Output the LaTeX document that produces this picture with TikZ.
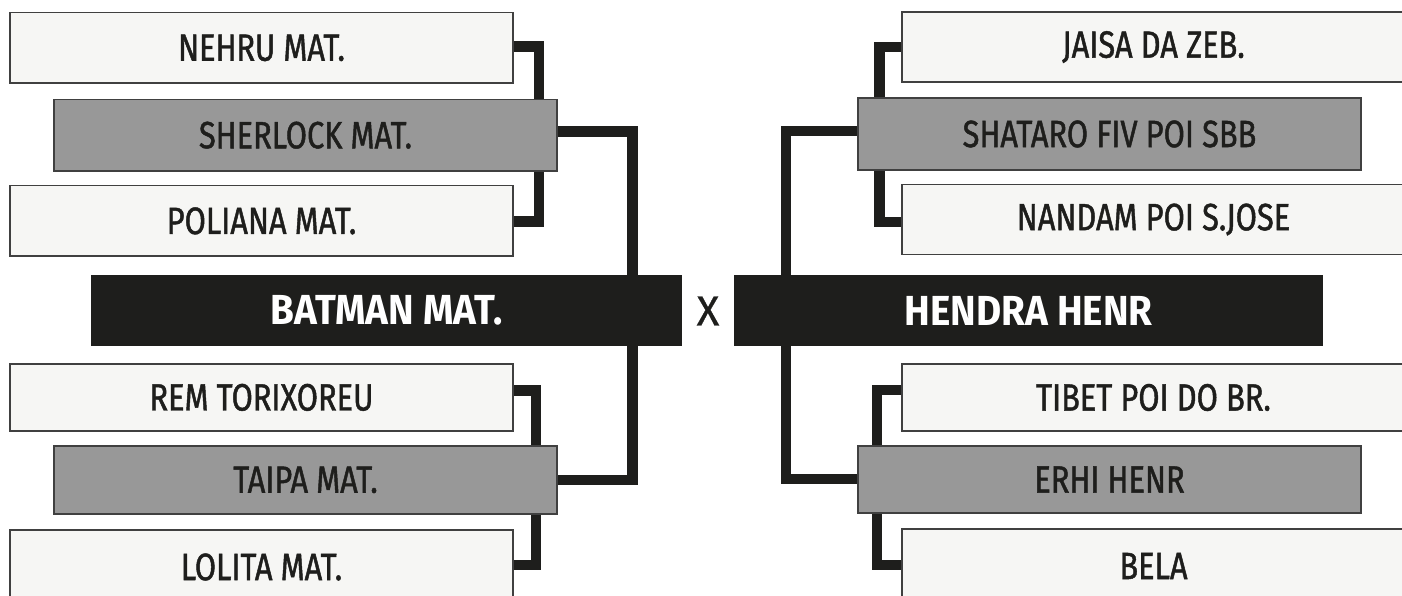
\documentclass[tikz,border=0pt]{standalone}
\usepackage{fontspec}
\setmainfont{Fira Sans}
\newfontfamily\namefont{Fira Sans}[FakeStretch=0.81,FakeBold=1.2]
\newfontfamily\teamfont{Fira Sans}[FakeStretch=0.92]
\newfontfamily\vsfont{Fira Sans}[FakeBold=0.6]
\usetikzlibrary{backgrounds}
\definecolor{ink}{HTML}{1E1E1C}
\definecolor{lightfill}{HTML}{F6F6F4}
\definecolor{grayfill}{HTML}{989898}
\definecolor{edgecol}{HTML}{404040}
\tikzset{
  lightbox/.style={draw=edgecol, line width=1.5pt, fill=lightfill, minimum width=503pt,
    text=ink, inner sep=0pt, font=\namefont\fontsize{38}{38}\selectfont},
  graybox/.style={lightbox, fill=grayfill},
  teambox/.style={fill=ink, text=white, inner sep=0pt, minimum height=71pt,
    font=\teamfont\bfseries\fontsize{42}{42}\selectfont},
  conn/.style={draw=ink, line width=10.5pt, line join=miter},
  vsword/.style={text=ink, inner sep=0pt, font=\vsfont\fontsize{42}{42}\selectfont}
}
\begin{document}
\begin{tikzpicture}[x=1pt,y=-1pt]
\clip (0,0) rectangle (1402,596);
% left bracket
\node[lightbox, minimum height=70.3pt] (nehru)    at (261.5,47.9)  {NEHRU MAT.};
\node[graybox,  minimum height=71.7pt] (sherlock) at (305.5,135.2) {SHERLOCK MAT.};
\node[lightbox, minimum height=70.3pt] (poliana)  at (261.5,220.9) {POLIANA MAT.};
\node[teambox,  minimum width=591pt]   (batman)   at (386.5,310.5) {BATMAN MAT.};
\node[lightbox, minimum height=66.7pt] (rem)      at (261.5,397.4) {REM TORIXOREU};
\node[graybox,  minimum height=67.7pt] (taipa)    at (305.5,479.9) {TAIPA MAT.};
\node[lightbox, minimum height=74pt]   (lolita)   at (261.5,567)   {LOLITA MAT.};
% right bracket
\node[lightbox, minimum height=70pt]   (jaisa)    at (1153.5,47)   {JAISA DA ZEB.};
\node[graybox,  minimum height=72pt]   (shataro)  at (1109.5,134)  {SHATARO FIV POI SBB};
\node[lightbox, minimum height=70pt]   (nandam)   at (1153.5,219.5){NANDAM POI S.JOSE};
\node[teambox,  minimum width=589pt]   (hendra)   at (1028.5,310.5){HENDRA HENR};
\node[lightbox, minimum height=67pt]   (tibet)    at (1153.5,397.5){TIBET POI DO BR.};
\node[graybox,  minimum height=67pt]   (erhi)     at (1109.5,479.5){ERHI HENR};
\node[lightbox, minimum height=74pt]   (bela)     at (1153.5,566)  {BELA};
% versus
\node[vsword] (vs) at (708,311) {X};
% joints
\coordinate (jl1) at (539,0);
\coordinate (jl2) at (632.5,0);
\coordinate (jl3) at (536,0);
\coordinate (jr1) at (879.5,0);
\coordinate (jr2) at (786,0);
\coordinate (jr3) at (877,0);
\begin{scope}[on background layer]
  \draw[conn] (nehru.east |- 0,46.7) -| (jl1 |- sherlock.north);
  \draw[conn] (poliana.east |- 0,221.7) -| (jl1 |- sherlock.south);
  \draw[conn] (sherlock.east |- 0,131.7) -| (jl2 |- batman.north);
  \draw[conn] (rem.east |- 0,390.7) -| (jl3 |- taipa.north);
  \draw[conn] (lolita.east |- 0,565) -| (jl3 |- taipa.south);
  \draw[conn] (taipa.east |- 0,480) -| (jl2 |- batman.south);
  \draw[conn] (jaisa.west |- 0,47) -| (jr1 |- shataro.north);
  \draw[conn] (nandam.west |- 0,222) -| (jr1 |- shataro.south);
  \draw[conn] (shataro.west |- 0,131) -| (jr2 |- hendra.north);
  \draw[conn] (tibet.west |- 0,390) -| (jr3 |- erhi.north);
  \draw[conn] (bela.west |- 0,565) -| (jr3 |- erhi.south);
  \draw[conn] (erhi.west |- 0,479) -| (jr2 |- hendra.south);
\end{scope}
\end{tikzpicture}
\end{document}
